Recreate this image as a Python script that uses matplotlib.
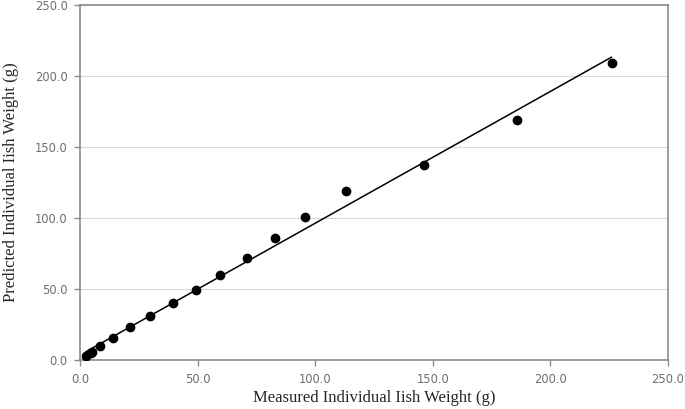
import numpy as np
import matplotlib.pyplot as plt

# measured vs predicted individual fish weight (g)
measured = [2.6, 4.5, 5.2, 8.5, 13.9, 21.1, 29.9, 39.5, 49.5, 59.7, 71.0,
            82.9, 95.8, 113.0, 146.1, 185.8, 226.3]
predicted = [2.8, 5.1, 5.8, 10.0, 15.7, 23.2, 31.2, 40.1, 49.5, 59.6, 71.6,
             85.9, 100.9, 118.8, 137.5, 168.8, 209.2]

# fitted line (slope, intercept) over the measured range
fit_slope = 0.928
fit_intercept = 3.5
fit_range = [2.6, 226.0]

ticks = [0, 50, 100, 150, 200, 250]
tick_labels = ['0.0', '50.0', '100.0', '150.0', '200.0', '250.0']

fig = plt.figure(figsize=(6.85, 4.09), dpi=100)
ax = fig.add_axes([0.1168, 0.1198, 0.975 - 0.1168, 0.9878 - 0.1198])

fx = np.array(fit_range)
ax.plot(fx, fit_slope * fx + fit_intercept, color='black', lw=1.1, zorder=2)
ax.plot(measured, predicted, 'o', color='black', ms=6, zorder=3)

ax.set_xlim(0, 250)
ax.set_ylim(0, 250)
ax.set_xticks(ticks)
ax.set_xticklabels(tick_labels)
ax.set_yticks(ticks)
ax.set_yticklabels(tick_labels)
ax.yaxis.grid(True, color='#d9d9d9', lw=0.8)
ax.set_axisbelow(True)

for s in ax.spines.values():
    s.set_color('#8c8c8c')
    s.set_linewidth(1.2)
ax.tick_params(colors='#8c8c8c', labelcolor='#6e6e6e', labelsize=8.3,
               length=4, width=1)
ax.tick_params(axis='x', pad=5)
ax.tick_params(axis='y', pad=5)

font = {'family': 'Liberation Serif', 'size': 12, 'color': '#262626'}
ax.set_xlabel('Measured Individual Iish Weight (g)', fontdict=font, labelpad=3)
ax.set_ylabel('Predicted Individual Iish Weight (g)', fontdict=font, labelpad=11)

fig.savefig('out.png', dpi=100)
